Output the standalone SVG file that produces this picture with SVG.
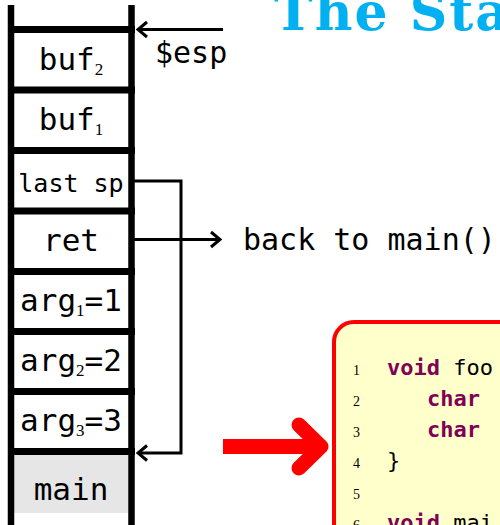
<svg xmlns="http://www.w3.org/2000/svg" width="500" height="525" viewBox="0 0 500 525">
<defs>
<style>
.cell{font-family:"DejaVu Sans Mono","Liberation Mono",monospace;font-size:31px;fill:#000;text-anchor:middle}
.sub{font-family:"Liberation Serif",serif;font-size:17px}
.rail{stroke:#000;stroke-width:6.5;fill:none}
.bar{stroke:#000;stroke-width:7;fill:none}
.conn{stroke:#000;stroke-width:3;fill:none}
.lbl{font-family:"DejaVu Sans Mono","Liberation Mono",monospace;font-size:30px;fill:#000}
.code{font-family:"DejaVu Sans Mono","Liberation Mono",monospace;font-size:22px;fill:#000}
.kw{fill:#7f0055;font-weight:bold}
.ln{font-family:"Liberation Serif",serif;font-size:14px;fill:#000}
</style>
<marker id="chev" markerUnits="userSpaceOnUse" viewBox="-12 -10 14 20" refX="0" refY="0" markerWidth="14" markerHeight="20" orient="auto">
<path d="M -9 -7.5 L 0 0 L -9 7.5" fill="none" stroke="#000" stroke-width="3"/>
</marker>
</defs>
<rect width="500" height="525" fill="#fff"/>
<text x="274" y="30" font-family="DejaVu Serif,Liberation Serif,serif" font-weight="bold" font-size="52" letter-spacing="2" fill="#00b0f0">The Sta</text>
<g id="stack">
<rect x="14" y="455" width="114" height="58" fill="#e6e6e6"/>
<line class="rail" x1="11" y1="5" x2="11" y2="525"/>
<line class="rail" x1="131.5" y1="5" x2="131.5" y2="525"/>
<line class="bar" x1="8" y1="29.5" x2="135" y2="29.5"/>
<line class="bar" x1="8" y1="90" x2="135" y2="90"/>
<line class="bar" x1="8" y1="150.5" x2="135" y2="150.5"/>
<line class="bar" x1="8" y1="211" x2="135" y2="211"/>
<line class="bar" x1="8" y1="271.5" x2="135" y2="271.5"/>
<line class="bar" x1="8" y1="331.5" x2="135" y2="331.5"/>
<line class="bar" x1="8" y1="391.5" x2="135" y2="391.5"/>
<line class="bar" x1="8" y1="451.5" x2="135" y2="451.5"/>
</g>
<g id="buf2"><text class="cell" x="71" y="70">buf<tspan class="sub" dy="5">2</tspan></text></g>
<g id="buf1"><text class="cell" x="71" y="130">buf<tspan class="sub" dy="5">1</tspan></text></g>
<g id="lastsp"><text class="cell" x="71" y="192" style="font-size:25px">last sp</text></g>
<g id="ret"><text class="cell" x="71" y="251">ret</text></g>
<g id="arg1"><text class="cell" x="71" y="311">arg<tspan class="sub" dy="5">1</tspan><tspan dy="-5">=1</tspan></text></g>
<g id="arg2"><text class="cell" x="71" y="371">arg<tspan class="sub" dy="5">2</tspan><tspan dy="-5">=2</tspan></text></g>
<g id="arg3"><text class="cell" x="71" y="431">arg<tspan class="sub" dy="5">3</tspan><tspan dy="-5">=3</tspan></text></g>
<g id="main"><text class="cell" x="71" y="500">main</text></g>
<g id="esp"><text class="lbl" x="155" y="63">$esp</text></g>
<g id="backmain"><text class="lbl" x="243" y="250">back to main()</text></g>
<g id="connectors">
<line class="conn" x1="223" y1="29.5" x2="138" y2="29.5" marker-end="url(#chev)"/>
<polyline class="conn" points="134,181 181,181 181,453 138,453" marker-end="url(#chev)"/>
<line class="conn" x1="134" y1="239.5" x2="220" y2="239.5" marker-end="url(#chev)"/>
</g>
<g id="redarrow">
<line x1="223" y1="446.5" x2="318" y2="446.5" stroke="#ff0000" stroke-width="15"/>
<polyline points="299,425 321,446.5 299,468" fill="none" stroke="#ff0000" stroke-width="15" stroke-linecap="round" stroke-linejoin="round"/>
</g>
<g id="codebox">
<rect x="334" y="322" width="200" height="260" rx="20" fill="#ffffcc" stroke="#ff0000" stroke-width="4"/>
<text class="ln" x="353" y="375">1</text>
<text class="ln" x="353" y="406">2</text>
<text class="ln" x="353" y="437">3</text>
<text class="ln" x="353" y="468">4</text>
<text class="ln" x="353" y="499">5</text>
<text class="ln" x="353" y="530">6</text>
<text class="code" x="387" y="375" xml:space="preserve"><tspan class="kw">void</tspan> foo</text>
<text class="code" x="427" y="406"><tspan class="kw">char</tspan></text>
<text class="code" x="427" y="437"><tspan class="kw">char</tspan></text>
<text class="code" x="387" y="468">}</text>
<text class="code" x="387" y="530" xml:space="preserve"><tspan class="kw">void</tspan> mai</text>
</g>
</svg>
